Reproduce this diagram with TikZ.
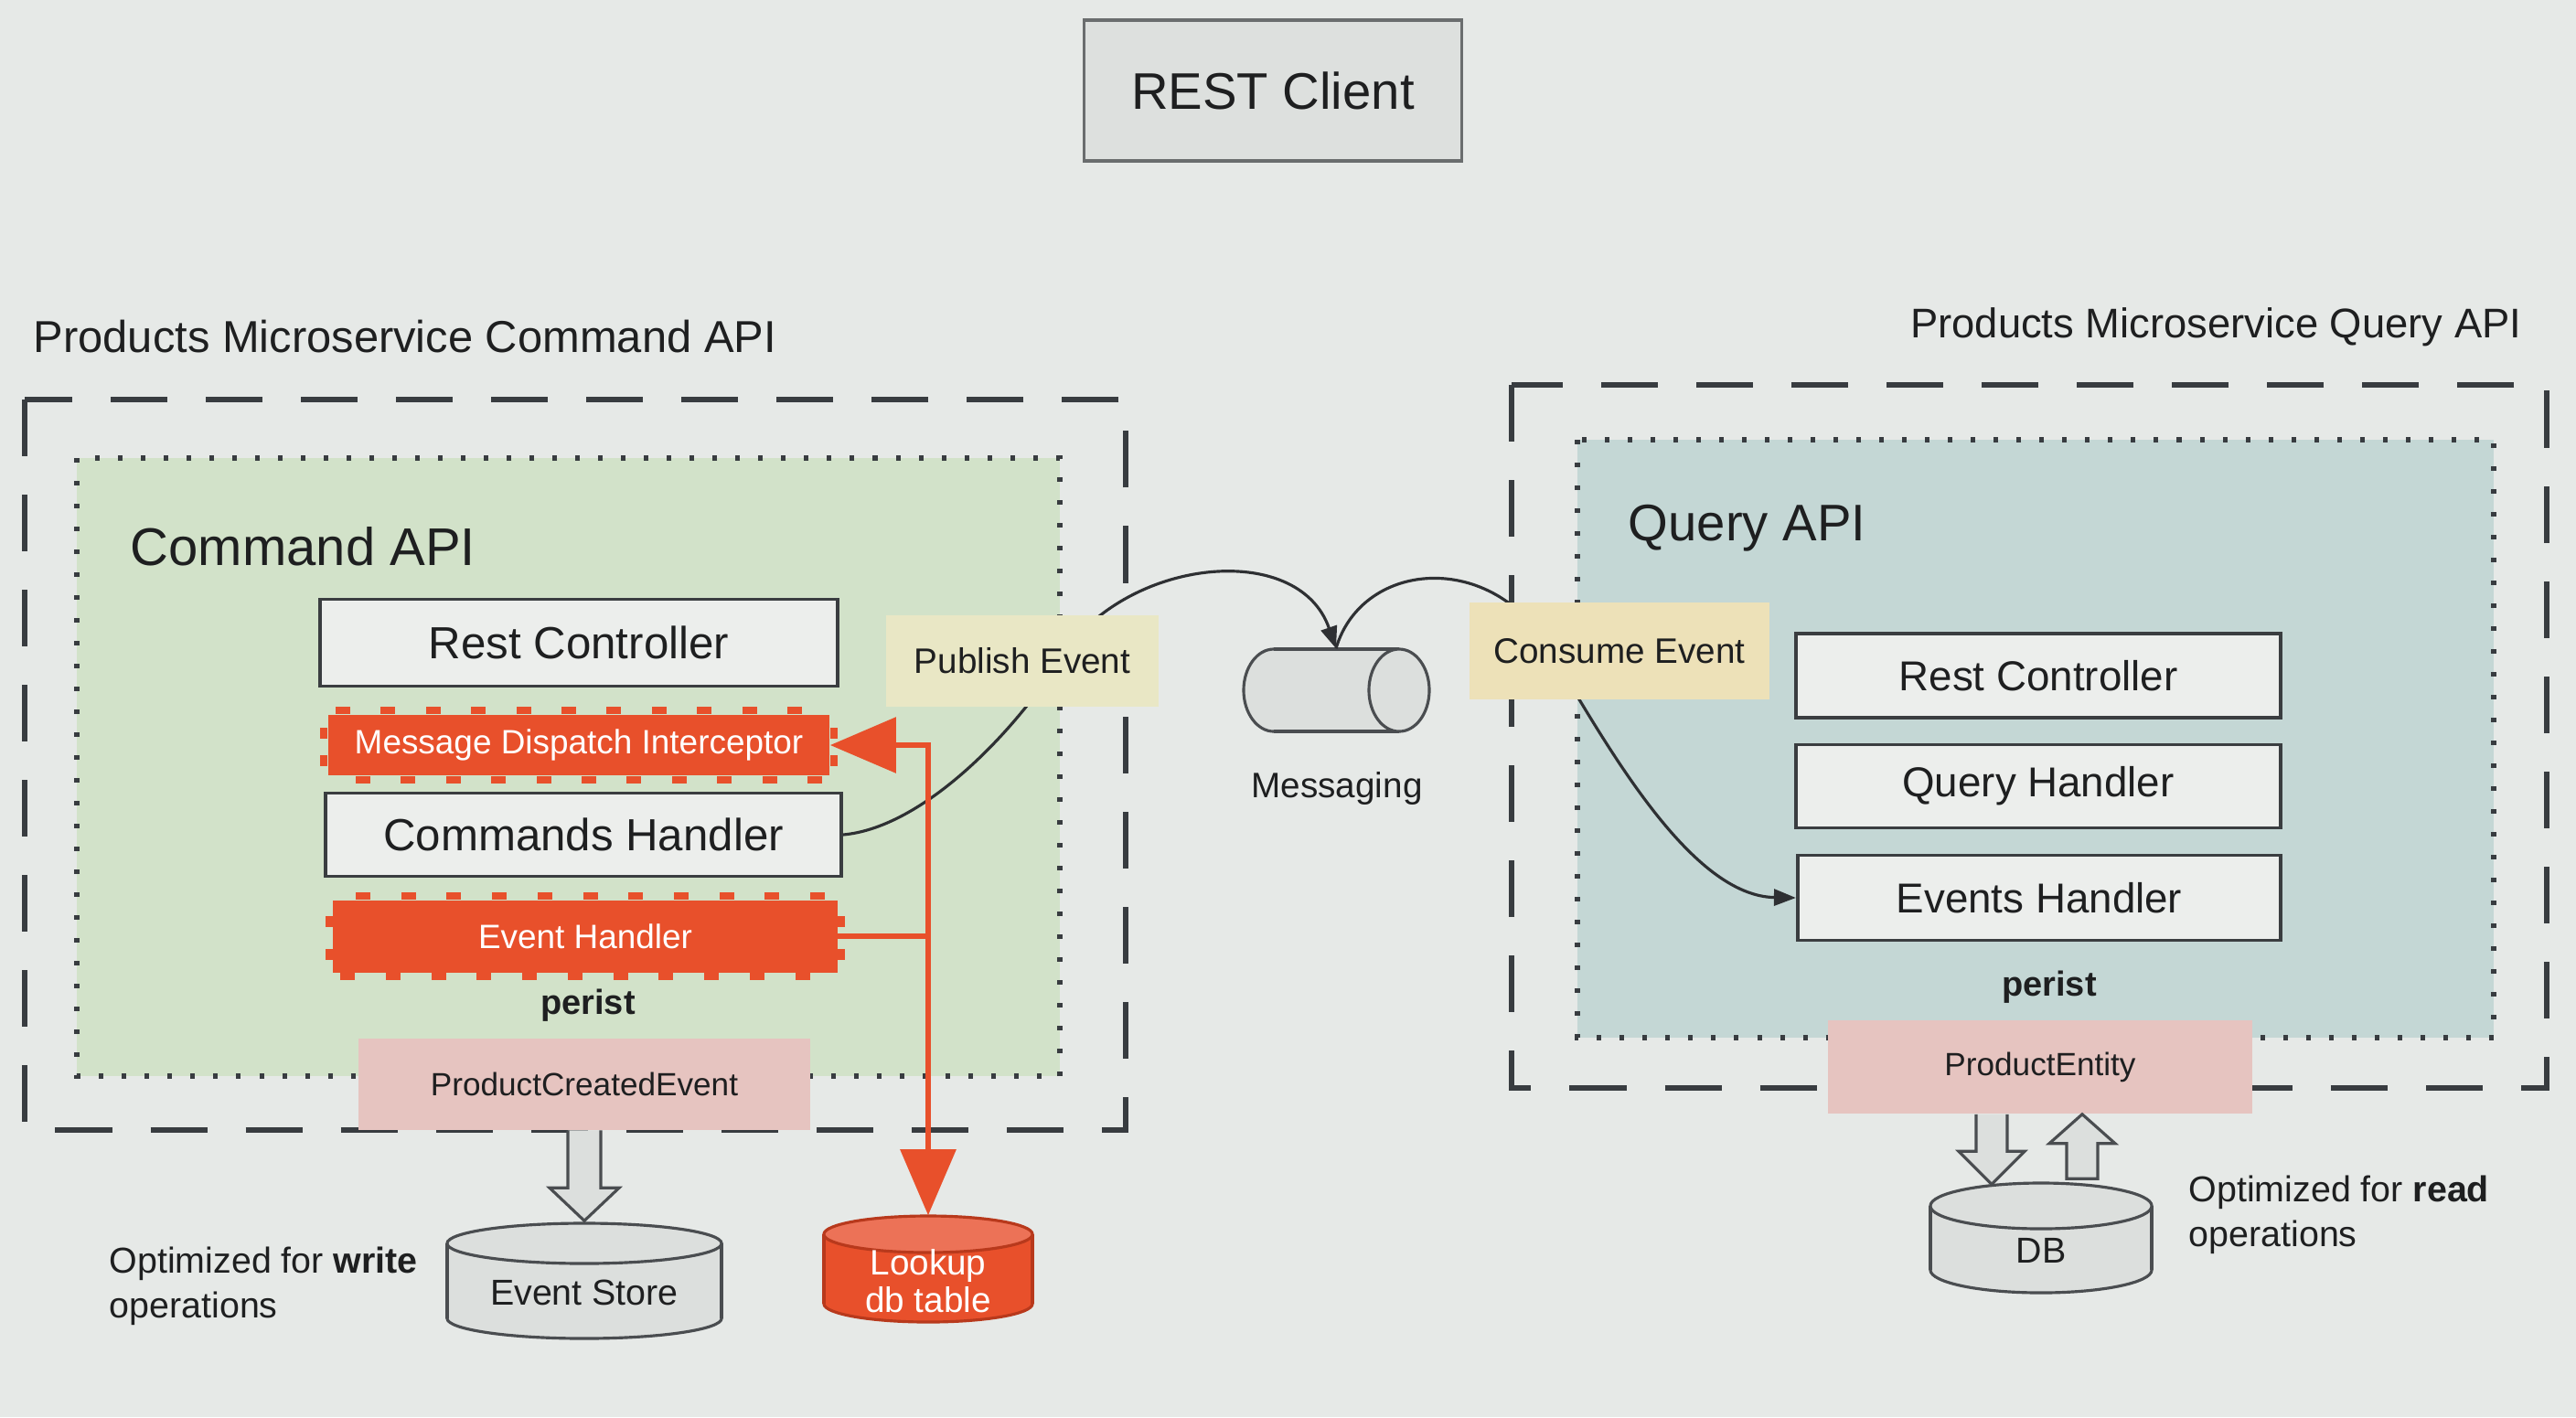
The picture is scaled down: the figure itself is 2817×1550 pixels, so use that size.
\documentclass[tikz,border=0pt]{standalone}
\usepackage{fontspec}
\setmainfont{Liberation Sans}
\usetikzlibrary{arrows.meta,calc}
\definecolor{bgc}{HTML}{E6E9E7}
\definecolor{txt}{HTML}{1E1F20}
\definecolor{boxln}{HTML}{3A3D40}
\definecolor{boxfl}{HTML}{ECEEEC}
\definecolor{restfl}{HTML}{DDE0DE}
\definecolor{restln}{HTML}{6A6D6E}
\definecolor{dashc}{HTML}{383C40}
\definecolor{greenc}{HTML}{D2E2C9}
\definecolor{tealc}{HTML}{C4D7D5}
\definecolor{redc}{HTML}{E8502B}
\definecolor{redtop}{HTML}{EC7257}
\definecolor{redln}{HTML}{B8391C}
\definecolor{pinkc}{HTML}{E6C4C0}
\definecolor{yelA}{HTML}{E9E7C5}
\definecolor{yelB}{HTML}{EDE1B8}
\definecolor{cylfl}{HTML}{DCDFDD}
\definecolor{cylln}{HTML}{4A4D50}
\definecolor{curvec}{HTML}{2E3033}
\begin{document}
\begin{tikzpicture}[x=0.01cm,y=-0.01cm,
  lbl/.style={inner sep=0pt, text=txt},
  box/.style={draw=boxln, fill=boxfl, line width=1.1pt, inner sep=0pt, text=txt},
  redbox/.style={fill=redc, inner sep=0pt, text=white, font=\fontsize{10.5}{12}\selectfont},
  pinkbox/.style={fill=pinkc, inner sep=0pt, text=txt, font=\fontsize{10}{12}\selectfont},
  tagbox/.style={inner sep=0pt, text=txt, font=\fontsize{11}{13}\selectfont},
  dashbox/.style={draw=dashc, line width=1.5pt, dash pattern=on 0.62cm off 0.42cm},
  dotbox/.style={draw=dashc, line width=1.6pt, dash pattern=on 0.05cm off 0.2cm},
  conn/.style={draw=curvec, line width=0.9pt, -{Triangle[length=0.24cm,width=0.18cm]}},
  redline/.style={draw=redc, line width=1.7pt},
  harrow/.style={draw=cylln, fill=cylfl, line width=0.9pt, line join=miter},
  cylbody/.style={fill=cylfl, draw=cylln, line width=0.9pt},
  redcyl/.style={fill=redc, draw=redln, line width=0.9pt}
]
\useasboundingbox (0,0) rectangle (2817,1550);
\fill[bgc] (0,0) rectangle (2817,1550);

% REST client
\node[draw=restln, fill=restfl, line width=0.9pt, minimum width=4.13cm, minimum height=1.54cm,
      font=\fontsize{16}{19}\selectfont, text=txt] (rest) at (1392,99) {REST Client};

% titles
\node[lbl, anchor=west, font=\fontsize{13.9}{16}\selectfont] (cmdtitle) at (36,368) {Products Microservice Command API};
\node[lbl, anchor=east, font=\fontsize{12.9}{16}\selectfont] (qrytitle) at (2758,358) {Products Microservice Query API};

% containers
\draw[dashbox] (27,437) rectangle (1231,1236);
\draw[dashbox] (1653,421) rectangle (2785,1190);
\draw[dotbox, fill=greenc] (84,501) rectangle (1159,1177);
\draw[dotbox, fill=tealc] (1725,481) rectangle (2727,1135);

\node[lbl, anchor=west, font=\fontsize{16.5}{20}\selectfont] (cmdapi) at (142,598) {Command API};
\node[lbl, anchor=west, font=\fontsize{16}{20}\selectfont] (qryapi) at (1780,578) {Query API};

% left components
\node[box, minimum width=5.66cm, minimum height=0.95cm, font=\fontsize{14}{17}\selectfont] (lrc) at (633,703) {Rest Controller};
\node[redbox, minimum width=5.48cm, minimum height=0.66cm] (mdi) at (633,815) {Message Dispatch Interceptor};
\node[box, minimum width=5.64cm, minimum height=0.91cm, font=\fontsize{14}{17}\selectfont] (cmd) at (638,913) {Commands Handler};
\node[redbox, minimum width=5.51cm, minimum height=0.79cm] (eh) at (640,1024) {Event Handler};
\foreach \t in {0.03,0.12,...,0.98}{
  \fill[redc] ($(mdi.north west)!\t!(mdi.north east)$) ++(-8,0) rectangle ++(16,-8);
  \fill[redc] ($(mdi.south west)!\t+0.04!(mdi.south east)$) ++(-8,0) rectangle ++(16,8);
  \fill[redc] ($(eh.north west)!\t+0.03!(eh.north east)$) ++(-8,0) rectangle ++(16,-8);
  \fill[redc] ($(eh.south west)!\t!(eh.south east)$) ++(-8,0) rectangle ++(16,8);
}
\foreach \t in {0.3,0.75}{
  \fill[redc] ($(mdi.north west)!\t!(mdi.south west)$) ++(0,-6) rectangle ++(-8,12);
  \fill[redc] ($(mdi.north east)!\t!(mdi.south east)$) ++(0,-6) rectangle ++(8,12);
  \fill[redc] ($(eh.north west)!\t!(eh.south west)$) ++(0,-6) rectangle ++(-8,12);
  \fill[redc] ($(eh.north east)!\t!(eh.south east)$) ++(0,-6) rectangle ++(8,12);
}
\node[lbl, font=\bfseries\fontsize{10.8}{13}\selectfont] (perl) at (643,1100) {perist};

% right components
\node[box, minimum width=5.30cm, minimum height=0.92cm, font=\fontsize{13}{16}\selectfont] (rrc) at (2229,739) {Rest Controller};
\node[box, minimum width=5.30cm, minimum height=0.91cm, font=\fontsize{13}{16}\selectfont] (qh) at (2229,860) {Query Handler};
\node[box, minimum width=5.28cm, minimum height=0.93cm, font=\fontsize{13}{16}\selectfont] (reh) at (2230,982) {Events Handler};
\node[lbl, font=\bfseries\fontsize{10.8}{13}\selectfont] (perr) at (2241,1080) {perist};

% messaging cylinder (horizontal)
\filldraw[cylbody] (1393,755) ellipse [x radius=0.33cm, y radius=0.45cm];
\fill[cylfl] (1393,710) rectangle (1530,800);
\draw[draw=cylln, line width=0.9pt] (1393,710) -- (1530,710) (1393,800) -- (1530,800);
\filldraw[cylbody] (1530,755) ellipse [x radius=0.33cm, y radius=0.45cm];
\node[lbl, minimum width=2.03cm, minimum height=0.9cm] (msg) at (1461,755) {};
\node[lbl, font=\fontsize{11}{13}\selectfont] (msglbl) at (1462,862) {Messaging};

% event connectors
\draw[conn] (cmd.east) .. controls (1010,905) and (1110,800) .. (1160,720)
            .. controls (1230,610) and (1420,590) .. (msg.north);
\draw[conn] (msg.north) .. controls (1490,610) and (1640,600) .. (1700,720)
            .. controls (1760,820) and (1850,980) .. (reh.west);

% lookup cylinder
\filldraw[redcyl] (1015,1426) ellipse [x radius=1.14cm, y radius=0.2cm];
\fill[redc] (901,1350) rectangle (1129,1426);
\draw[draw=redln, line width=0.9pt] (901,1350) -- (901,1426) (1129,1350) -- (1129,1426);
\filldraw[redcyl, fill=redtop] (1015,1350) ellipse [x radius=1.14cm, y radius=0.2cm];
\node[lbl, text=white, minimum width=2.28cm, minimum height=1.16cm,
      font=\fontsize{11}{11.7}\selectfont] (lookup) at (1015,1388)
      {\raisebox{-0.19cm}[\height][\depth]{\renewcommand{\arraystretch}{0.98}\begin{tabular}{@{}c@{}}Lookup\\db table\end{tabular}}};

% red connectors
\coordinate (jtop) at (1015,815);
\coordinate (jmid) at (jtop |- eh.east);
\draw[redline] (eh.east) -- (jmid);
\draw[redline, line join=miter, {Triangle[length=0.72cm,width=0.6cm]}-{Triangle[length=0.72cm,width=0.6cm]}]
  (mdi.east) -- (jtop) -- (lookup.north);

% event labels
\node[tagbox, fill=yelA, minimum width=2.97cm, minimum height=0.99cm] (pub) at (1118,723) {Publish Event};
\node[tagbox, fill=yelB, minimum width=3.27cm, minimum height=1.05cm] (con) at (1771,712) {Consume Event};

% entities
\node[pinkbox, minimum width=4.94cm, minimum height=0.99cm] (pce) at (639,1186) {ProductCreatedEvent};
\node[pinkbox, minimum width=4.63cm, minimum height=1.02cm] (pe) at (2231,1167) {ProductEntity};

% event store cylinder
\filldraw[cylbody] (639,1442) ellipse [x radius=1.5cm, y radius=0.22cm];
\fill[cylfl] (489,1360) rectangle (789,1442);
\draw[draw=cylln, line width=0.9pt] (489,1360) -- (489,1442) (789,1360) -- (789,1442);
\filldraw[cylbody] (639,1360) ellipse [x radius=1.5cm, y radius=0.22cm];
\node[lbl, minimum width=3cm, minimum height=1.26cm, font=\fontsize{11.2}{13}\selectfont] (estore) at (639,1401) {\raisebox{-0.13cm}[\height][\depth]{Event Store}};

% DB cylinder
\filldraw[cylbody] (2232,1389) ellipse [x radius=1.21cm, y radius=0.25cm];
\fill[cylfl] (2111,1319) rectangle (2353,1389);
\draw[draw=cylln, line width=0.9pt] (2111,1319) -- (2111,1389) (2353,1319) -- (2353,1389);
\filldraw[cylbody] (2232,1319) ellipse [x radius=1.21cm, y radius=0.25cm];
\node[lbl, minimum width=2.42cm, minimum height=1.2cm, font=\fontsize{11.2}{13}\selectfont] (db) at (2232,1354) {\raisebox{-0.14cm}[\height][\depth]{DB}};

% hollow arrows
\filldraw[harrow] ($(pce.south)+(-18,0)$) -- ($(estore.north)+(-18,-38)$) -- ($(estore.north)+(-38,-38)$)
  -- ($(estore.north)+(0,-2)$) -- ($(estore.north)+(38,-38)$) -- ($(estore.north)+(18,-38)$) -- ($(pce.south)+(18,0)$);
\filldraw[harrow] ($(pe.south)+(-70,0)$) -- ($(db.north)+(-71,-34)$) -- ($(db.north)+(-90,-34)$)
  -- ($(db.north)+(-54,2)$) -- ($(db.north)+(-18,-34)$) -- ($(db.north)+(-37,-34)$) -- ($(pe.south)+(-36,0)$);
\filldraw[harrow] ($(db.north)+(28,-4)$) -- ($(pe.south)+(29,32)$) -- ($(pe.south)+(10,32)$)
  -- ($(pe.south)+(46,0)$) -- ($(pe.south)+(82,32)$) -- ($(pe.south)+(63,32)$) -- ($(db.north)+(62,-4)$) -- cycle;

% notes
\node[lbl, anchor=west, align=left, font=\fontsize{11.2}{13.9}\selectfont] (optw) at (119,1407) {Optimized for \textbf{write}\\operations};
\node[lbl, anchor=west, align=left, font=\fontsize{11.2}{13.9}\selectfont] (optr) at (2393,1329) {Optimized for \textbf{read}\\operations};
\end{tikzpicture}
\end{document}
